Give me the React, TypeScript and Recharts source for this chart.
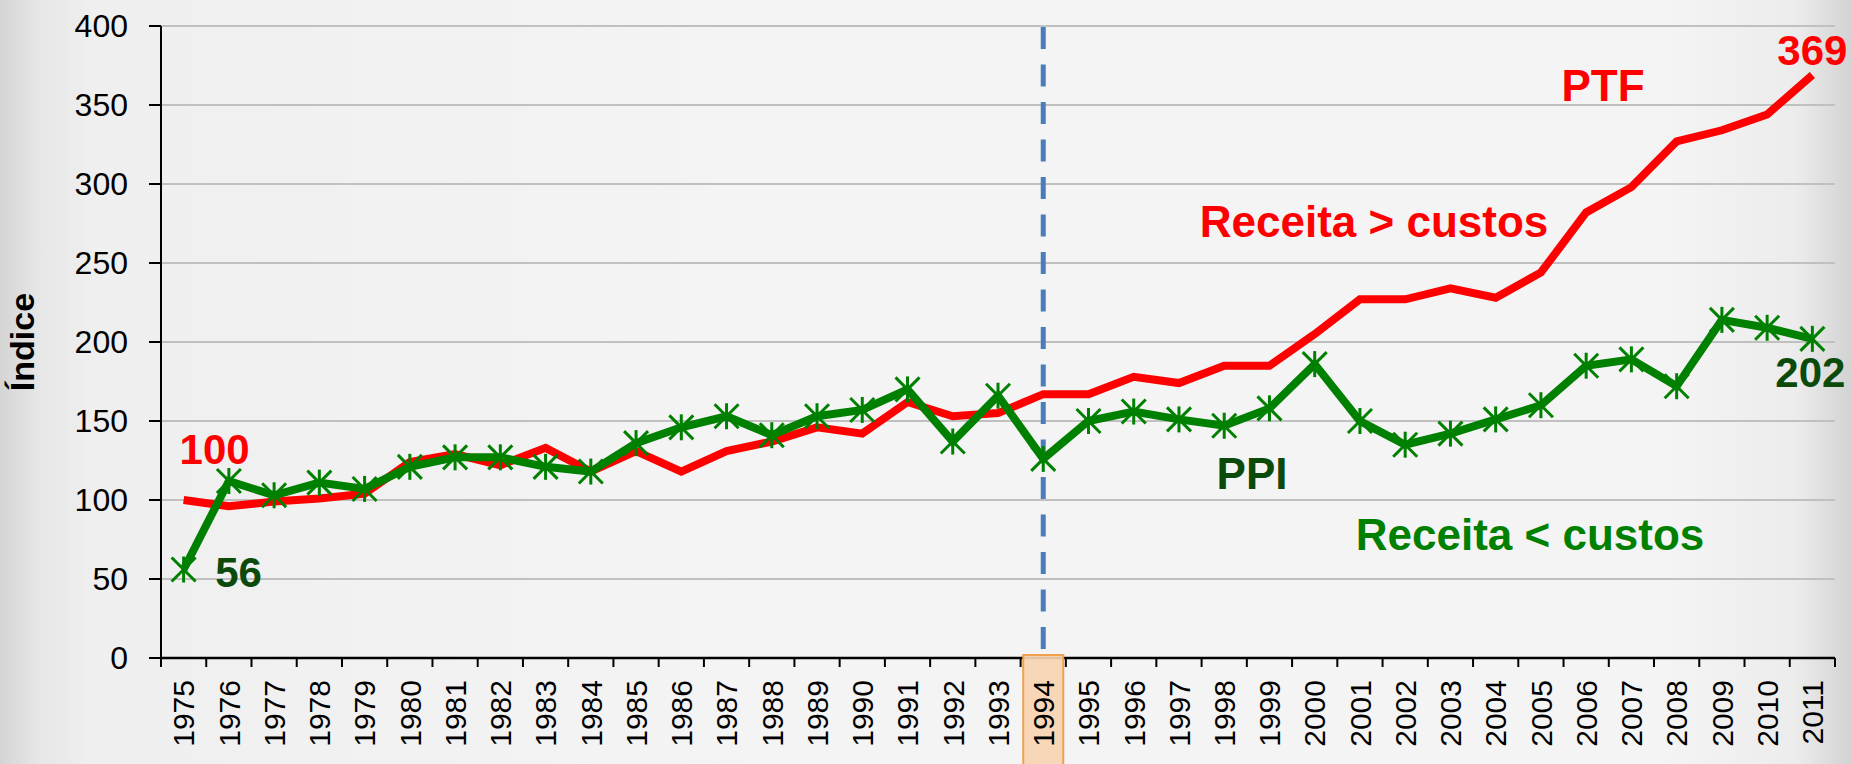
import React from 'react';
import { LineChart, Line, XAxis, YAxis, CartesianGrid, ReferenceLine, LabelList } from 'recharts';

const years = ['1975','1976','1977','1978','1979','1980','1981','1982','1983','1984','1985','1986','1987','1988','1989','1990','1991','1992','1993','1994','1995','1996','1997','1998','1999','2000','2001','2002','2003','2004','2005','2006','2007','2008','2009','2010','2011'];
const ptfValues = [100, 96, 99, 101, 104, 124, 129, 122, 133, 118, 131, 118, 131, 137, 146, 142, 162, 153, 155, 167, 167, 178, 174, 185, 185, 205, 227, 227, 234, 228, 244, 282, 298, 327, 334, 344, 369];
const ppiValues = [56, 112, 103, 111, 107, 121, 127, 127, 121, 118, 136, 146, 153, 141, 153, 157, 170, 137, 166, 126, 150, 156, 151, 147, 158, 186, 150, 135, 142, 151, 160, 185, 189, 172, 214, 209, 202];
const yTicks = [0, 50, 100, 150, 200, 250, 300, 350, 400];
const highlightYear = '1994';

const W = 1852;
const H = 764;
const PLOT_LEFT = 161;
const PLOT_RIGHT = 1835;
const PLOT_TOP = 26;
const PLOT_BOTTOM = 658;
const BAND = (PLOT_RIGHT - PLOT_LEFT) / years.length;

const RED = '#ff0000';
const GREEN = '#008000';
const DARK_GREEN = '#0b4a0b';
const FONT = '"Liberation Sans", Arial, Helvetica, sans-serif';

const data = years.map((y, i) => ({ year: y, ptf: ptfValues[i], ppi: ppiValues[i] }));

const YearTick = (props: any) => {
  const { x, payload, index } = props;
  const isHighlight = payload.value === highlightYear;
  const isLast = index === years.length - 1;
  const ty = 680;
  return (
    <g>
      {isHighlight && (
        <rect x={x - 20} y={PLOT_BOTTOM - 3} width={40} height={H - PLOT_BOTTOM + 10} fill="#f7d3b2" fillOpacity={0.92} stroke="#f0a050" strokeWidth={2} />
      )}
      <line x1={x - BAND / 2} x2={x - BAND / 2} y1={PLOT_BOTTOM} y2={PLOT_BOTTOM + 9} stroke="#000" strokeWidth={2} />
      {isLast && <line x1={x + BAND / 2} x2={x + BAND / 2} y1={PLOT_BOTTOM} y2={PLOT_BOTTOM + 9} stroke="#000" strokeWidth={2} />}
      <text x={x} y={ty} transform={`rotate(-90 ${x} ${ty})`} textAnchor="end" dy="0.36em" fontSize={30} fill="#000" fontFamily={FONT}>
        {payload.value}
      </text>
    </g>
  );
};

const StarDot = (props: any) => {
  const { cx, cy, index } = props;
  if (cx == null || cy == null) return <g key={`s-${index}`} />;
  const r = 12;
  return (
    <g key={`s-${index}`} stroke={GREEN} strokeWidth={3}>
      <line x1={cx - r} y1={cy - r} x2={cx + r} y2={cy + r} />
      <line x1={cx - r} y1={cy + r} x2={cx + r} y2={cy - r} />
      <line x1={cx} y1={cy - r - 1} x2={cx} y2={cy + r + 1} />
    </g>
  );
};

const PtfLabel = (props: any) => {
  const { x, y, value, index } = props;
  if (index === 0) {
    return <text x={x + 31} y={y - 36} textAnchor="middle" fontSize={42} fontWeight="bold" fill={RED} fontFamily={FONT}>{value}</text>;
  }
  if (index === years.length - 1) {
    return <text x={x} y={y - 10} textAnchor="middle" fontSize={42} fontWeight="bold" fill={RED} fontFamily={FONT}>{value}</text>;
  }
  return null;
};

const PpiLabel = (props: any) => {
  const { x, y, value, index } = props;
  if (index === 0) {
    return <text x={x + 55} y={y + 17} textAnchor="middle" fontSize={42} fontWeight="bold" fill={DARK_GREEN} fontFamily={FONT}>{value}</text>;
  }
  if (index === years.length - 1) {
    return <text x={x - 2} y={y + 48} textAnchor="middle" fontSize={42} fontWeight="bold" fill={DARK_GREEN} fontFamily={FONT}>{value}</text>;
  }
  return null;
};

export default function App() {
  return (
    <div
      style={{
        position: 'fixed',
        left: 0,
        top: 0,
        width: W,
        height: H,
        overflow: 'hidden',
        background: 'linear-gradient(to right, #d4d4d4 0%, #e6e6e6 2%, #efefef 5%, #f4f4f4 40%, #f4f4f4 90%, #ececec 97%, #d2d2d2 100%)',
        fontFamily: FONT,
      }}
    >
      <LineChart
        width={W}
        height={H}
        data={data}
        margin={{ top: PLOT_TOP, right: W - PLOT_RIGHT, bottom: 0, left: 0 }}
        style={{ fontFamily: FONT }}
      >
        <CartesianGrid vertical={false} stroke="#c0c0c0" strokeWidth={2} />
        <XAxis
          dataKey="year"
          type="category"
          scale="band"
          interval={0}
          height={H - PLOT_BOTTOM}
          axisLine={{ stroke: '#000', strokeWidth: 2.5 }}
          tickLine={false}
          tick={<YearTick />}
        />
        <YAxis
          width={PLOT_LEFT}
          domain={[0, 400]}
          ticks={yTicks}
          interval={0}
          tickSize={12}
          tickMargin={21}
          axisLine={{ stroke: '#000', strokeWidth: 2 }}
          tickLine={{ stroke: '#000', strokeWidth: 2 }}
          tick={{ fontSize: 32, fill: '#000', fontFamily: FONT }}
          label={{ value: 'Índice', angle: -90, position: 'insideLeft', offset: 0, dx: 22, style: { fontSize: 34, fontWeight: 'bold', fill: '#000', textAnchor: 'middle', fontFamily: FONT } }}
        />
        <ReferenceLine x={highlightYear} stroke="#4a7ebb" strokeWidth={5} strokeDasharray="22 15.5" strokeDashoffset={28.5} />
        <Line
          type="linear"
          dataKey="ptf"
          stroke={RED}
          strokeWidth={8}
          dot={false}
          activeDot={false}
          isAnimationActive={false}
        >
          <LabelList dataKey="ptf" content={<PtfLabel />} />
        </Line>
        <Line
          type="linear"
          dataKey="ppi"
          stroke={GREEN}
          strokeWidth={8}
          dot={<StarDot />}
          activeDot={false}
          isAnimationActive={false}
        >
          <LabelList dataKey="ppi" content={<PpiLabel />} />
        </Line>
      </LineChart>
      <svg width={W} height={H} style={{ position: 'absolute', left: 0, top: 0, pointerEvents: 'none' }}>
        <g fontFamily={FONT} fontWeight="bold" fontSize={44} textAnchor="middle">
          <text x={1603} y={101} fill={RED}>PTF</text>
          <text x={1374} y={237} fill={RED}>Receita &gt; custos</text>
          <text x={1252} y={489} fill={DARK_GREEN}>PPI</text>
          <text x={1530} y={550} fill={GREEN}>Receita &lt; custos</text>
        </g>
      </svg>
    </div>
  );
}
